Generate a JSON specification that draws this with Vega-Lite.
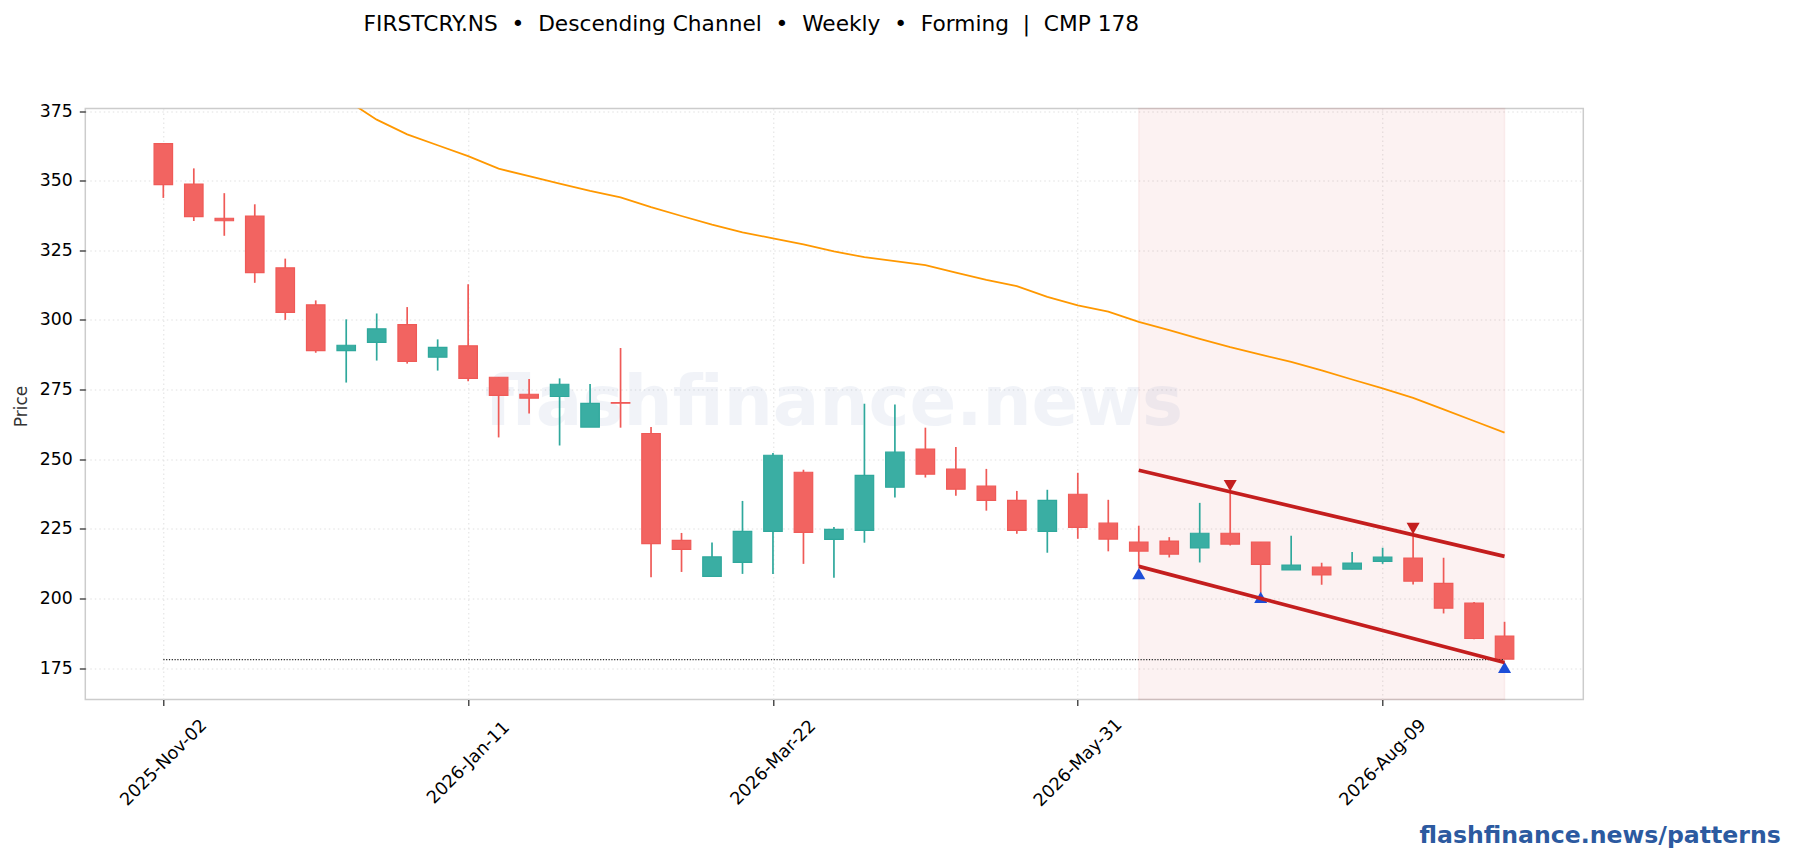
{"$schema":"https://vega.github.io/schema/vega-lite/v6.json","width":1498,"height":591,"autosize":{"type":"none"},"padding":{"left":85.3,"top":108.5,"right":209.7,"bottom":160.5},"background":"white",
"title":{"text":"FIRSTCRY.NS \u00a0•\u00a0 Descending Channel \u00a0•\u00a0 Weekly \u00a0•\u00a0 Forming \u00a0|\u00a0 CMP 178","anchor":"middle","frame":"group","dx":-83,"offset":56.5,"baseline":"middle","font":"DejaVu Sans","fontSize":21.7,"fontWeight":"normal","color":"#000000"},
"config":{"view":{"stroke":"#cccccc","strokeWidth":1.5},"font":"DejaVu Sans"},
"datasets":{
"candles":[
{"date":"2025-11-02","open":363.3,"high":363.3,"low":343.8,"close":348.6,"dir":"down"},
{"date":"2025-11-09","open":348.8,"high":354.4,"low":335.5,"close":337.1,"dir":"down"},
{"date":"2025-11-16","open":336.5,"high":345.5,"low":330.2,"close":335.6,"dir":"down"},
{"date":"2025-11-23","open":337.3,"high":341.5,"low":313.3,"close":317,"dir":"down"},
{"date":"2025-11-30","open":318.7,"high":322,"low":300,"close":302.7,"dir":"down"},
{"date":"2025-12-07","open":305.4,"high":307,"low":288.2,"close":289,"dir":"down"},
{"date":"2025-12-14","open":289,"high":300.2,"low":277.5,"close":290.9,"dir":"up"},
{"date":"2025-12-21","open":291.9,"high":302.3,"low":285.4,"close":296.8,"dir":"up"},
{"date":"2025-12-28","open":298.3,"high":304.6,"low":284.3,"close":285.1,"dir":"down"},
{"date":"2026-01-04","open":286.6,"high":293,"low":281.8,"close":290.1,"dir":"up"},
{"date":"2026-01-11","open":290.7,"high":312.8,"low":278,"close":279,"dir":"down"},
{"date":"2026-01-18","open":279.4,"high":279.4,"low":257.8,"close":272.9,"dir":"down"},
{"date":"2026-01-25","open":273.3,"high":278.8,"low":266.4,"close":271.9,"dir":"down"},
{"date":"2026-02-01","open":272.5,"high":279,"low":254.9,"close":276.9,"dir":"up"},
{"date":"2026-02-08","open":261.5,"high":277,"low":261.5,"close":270,"dir":"up"},
{"date":"2026-02-15","open":270.3,"high":289.9,"low":261.3,"close":270.1,"dir":"down"},
{"date":"2026-02-22","open":259.2,"high":261.5,"low":207.6,"close":219.7,"dir":"down"},
{"date":"2026-03-01","open":220.8,"high":223.5,"low":209.5,"close":217.6,"dir":"down"},
{"date":"2026-03-08","open":207.9,"high":220.1,"low":207.9,"close":214.9,"dir":"up"},
{"date":"2026-03-15","open":212.9,"high":235,"low":208.8,"close":224.1,"dir":"up"},
{"date":"2026-03-22","open":224.1,"high":252.2,"low":208.8,"close":251.4,"dir":"up"},
{"date":"2026-03-29","open":245.3,"high":246.2,"low":212.4,"close":223.7,"dir":"down"},
{"date":"2026-04-05","open":221.2,"high":225.6,"low":207.4,"close":224.8,"dir":"up"},
{"date":"2026-04-12","open":224.4,"high":269.9,"low":220,"close":244.2,"dir":"up"},
{"date":"2026-04-19","open":239.9,"high":269.6,"low":236.2,"close":252.5,"dir":"up"},
{"date":"2026-04-26","open":253.6,"high":261.3,"low":243.4,"close":244.6,"dir":"down"},
{"date":"2026-05-03","open":246.4,"high":254.4,"low":236.9,"close":239.2,"dir":"down"},
{"date":"2026-05-10","open":240.3,"high":246.5,"low":231.5,"close":235.2,"dir":"down"},
{"date":"2026-05-17","open":235.2,"high":238.6,"low":223.2,"close":224.4,"dir":"down"},
{"date":"2026-05-24","open":224.1,"high":239,"low":216.4,"close":235.2,"dir":"up"},
{"date":"2026-05-31","open":237.4,"high":245.1,"low":221.4,"close":225.5,"dir":"down"},
{"date":"2026-06-07","open":227,"high":235.4,"low":216.9,"close":221.3,"dir":"down"},
{"date":"2026-06-14","open":220.2,"high":226.1,"low":211.5,"close":217,"dir":"down"},
{"date":"2026-06-21","open":220.6,"high":222,"low":214.7,"close":215.9,"dir":"down"},
{"date":"2026-06-28","open":218.1,"high":234.3,"low":212.9,"close":223.4,"dir":"up"},
{"date":"2026-07-05","open":223.4,"high":238.4,"low":219,"close":219.5,"dir":"down"},
{"date":"2026-07-12","open":220.2,"high":220.2,"low":201.9,"close":212.2,"dir":"down"},
{"date":"2026-07-19","open":210.2,"high":222.5,"low":210.2,"close":212,"dir":"up"},
{"date":"2026-07-26","open":211.2,"high":212.8,"low":204.9,"close":208.4,"dir":"down"},
{"date":"2026-08-02","open":210.5,"high":216.7,"low":210.5,"close":212.7,"dir":"up"},
{"date":"2026-08-09","open":213.3,"high":218.2,"low":212.4,"close":214.8,"dir":"up"},
{"date":"2026-08-16","open":214.5,"high":222.8,"low":205,"close":206.2,"dir":"down"},
{"date":"2026-08-23","open":205.4,"high":214.6,"low":194.6,"close":196.5,"dir":"down"},
{"date":"2026-08-30","open":198.3,"high":198.7,"low":185.3,"close":185.6,"dir":"down"},
{"date":"2026-09-06","open":186.5,"high":191.6,"low":178.2,"close":178.2,"dir":"down"}],
"ma":[
{"date":"2025-12-14","price":379},{"date":"2025-12-21","price":371.9},{"date":"2025-12-28","price":366.6},{"date":"2026-01-04","price":362.7},{"date":"2026-01-11","price":358.8},{"date":"2026-01-18","price":354.3},{"date":"2026-01-25","price":351.6},{"date":"2026-02-01","price":348.9},{"date":"2026-02-08","price":346.3},{"date":"2026-02-15","price":344},{"date":"2026-02-22","price":340.5},{"date":"2026-03-01","price":337.3},{"date":"2026-03-08","price":334.2},{"date":"2026-03-15","price":331.4},{"date":"2026-03-22","price":329.3},{"date":"2026-03-29","price":327.1},{"date":"2026-04-05","price":324.6},{"date":"2026-04-12","price":322.5},{"date":"2026-04-19","price":321.1},{"date":"2026-04-26","price":319.7},{"date":"2026-05-03","price":317},{"date":"2026-05-10","price":314.4},{"date":"2026-05-17","price":312.1},{"date":"2026-05-24","price":308.3},{"date":"2026-05-31","price":305.2},{"date":"2026-06-07","price":303},{"date":"2026-06-14","price":299.3},{"date":"2026-06-21","price":296.3},{"date":"2026-06-28","price":293.2},{"date":"2026-07-05","price":290.2},{"date":"2026-07-12","price":287.5},{"date":"2026-07-19","price":284.9},{"date":"2026-07-26","price":281.9},{"date":"2026-08-02","price":278.6},{"date":"2026-08-09","price":275.4},{"date":"2026-08-16","price":272},{"date":"2026-08-23","price":267.9},{"date":"2026-08-30","price":263.7},{"date":"2026-09-06","price":259.5}],
"channel":[{"date":"2026-06-14","price":246,"line":"upper"},{"date":"2026-09-06","price":215.1,"line":"upper"},{"date":"2026-06-14","price":211.5,"line":"lower"},{"date":"2026-09-06","price":177,"line":"lower"}],
"markers":[{"date":"2026-06-14","price":208.9,"kind":"low"},{"date":"2026-07-12","price":200.4,"kind":"low"},{"date":"2026-09-06","price":175.2,"kind":"low"},{"date":"2026-07-05","price":240.5,"kind":"high"},{"date":"2026-08-16","price":225.1,"kind":"high"}],
"cmp":[{"date":"2025-11-02","price":178},{"date":"2026-09-06","price":178}],
"zone":[{"date":"2026-06-14","end":"2026-09-06"}],
"mark":[{"date":"2026-04-05","price":269.8,"label":"flashfinance.news"}]
},
"encoding":{"x":{"field":"date","type":"temporal","scale":{"type":"utc","nice":false,"padding":0,"domain":["2025-10-15T02:00:00Z","2026-09-24T02:00:00Z"]},
"axis":{"values":["2025-11-02","2026-01-11","2026-03-22","2026-05-31","2026-08-09"],"format":"%Y-%b-%d","labelAngle":-45,"labelAlign":"center","labelBaseline":"middle","labelPadding":57,"labelFontSize":17.6,"labelColor":"#000000","labelOverlap":false,"labelFlush":false,"labelBound":false,"tickColor":"#222222","tickSize":6,"tickWidth":1.2,"domain":false,"grid":true,"gridColor":"#e0e0e0","gridDash":[1.5,3],"gridWidth":1,"title":"flashfinance.news/patterns","titleX":1695,"titleY":136,"titleAlign":"right","titleAnchor":null,"titleBaseline":"middle","titleFontSize":23.6,"titleFontWeight":"bold","titleColor":"#2c5aa0"}}},
"layer":[
{"data":{"name":"zone"},"mark":{"type":"rect","fill":"#c62828","fillOpacity":0.06,"stroke":"#c62828","strokeOpacity":0.06,"strokeWidth":1.5},"encoding":{"x2":{"field":"end"}}},
{"data":{"name":"mark"},"mark":{"type":"text","font":"DejaVu Sans","fontSize":69,"fontWeight":"bold","color":"#1f4e9e","opacity":0.06,"align":"center","baseline":"middle"},"encoding":{"y":{"field":"price","type":"quantitative"},"text":{"field":"label"}}},
{"data":{"name":"ma"},"mark":{"type":"line","color":"#ff9800","strokeWidth":1.8,"clip":true},"encoding":{"y":{"field":"price","type":"quantitative","scale":{"domain":[163.7,375.9],"nice":false,"zero":false},"axis":{"values":[175,200,225,250,275,300,325,350,375],"labelFontSize":17.3,"labelColor":"#000000","labelPadding":7,"tickColor":"#222222","tickSize":6,"tickWidth":1.2,"domain":false,"grid":true,"gridColor":"#e0e0e0","gridDash":[1.5,3],"gridWidth":1,"title":"Price","titleFontSize":17,"titleFontWeight":"normal","titleColor":"#333333","titleBaseline":"middle","titleX":-64,"titleY":297.5}}}},
{"data":{"name":"candles"},"mark":{"type":"rule","strokeWidth":1.7},"encoding":{"y":{"field":"low","type":"quantitative"},"y2":{"field":"high"},"stroke":{"field":"dir","type":"nominal","scale":{"domain":["up","down"],"range":["#2fa89c","#ef5a57"]},"legend":null}}},
{"data":{"name":"candles"},"mark":{"type":"bar","size":18.5,"strokeWidth":1.2},"encoding":{"y":{"field":"open","type":"quantitative"},"y2":{"field":"close"},"fill":{"field":"dir","type":"nominal","scale":{"domain":["up","down"],"range":["#3aaea3","#f26461"]},"legend":null},"stroke":{"field":"dir","type":"nominal","legend":null}}},
{"data":{"name":"cmp"},"mark":{"type":"line","color":"#222222","strokeWidth":1.2,"strokeDash":[1.2,1.6]},"encoding":{"y":{"field":"price","type":"quantitative"}}},
{"data":{"name":"markers"},"mark":{"type":"point","filled":true,"opacity":1,"size":170},"encoding":{"y":{"field":"price","type":"quantitative"},"shape":{"field":"kind","type":"nominal","scale":{"domain":["low","high"],"range":["triangle-up","triangle-down"]},"legend":null},"color":{"field":"kind","type":"nominal","scale":{"domain":["low","high"],"range":["#1d4ed8","#c41e1e"]},"legend":null}}},
{"data":{"name":"channel"},"mark":{"type":"line","color":"#c41e1e","strokeWidth":3.7},"encoding":{"y":{"field":"price","type":"quantitative"},"detail":{"field":"line"}}}
]}
